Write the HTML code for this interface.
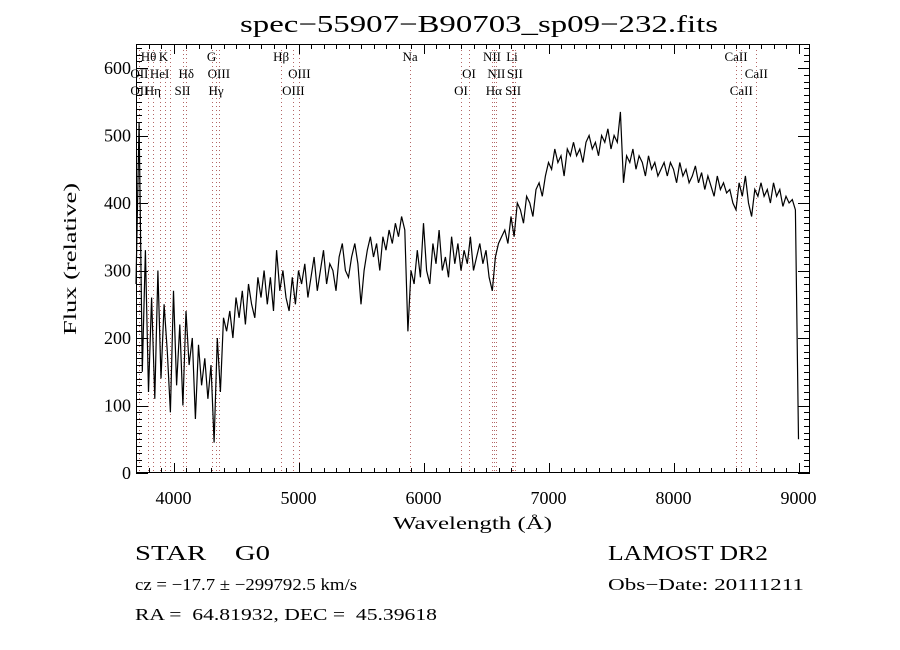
<!DOCTYPE html>
<html><head><meta charset="utf-8"><style>
html,body{margin:0;padding:0;background:#fff}
svg{display:block}
text{font-family:"Liberation Serif",serif;fill:#000}
</style></head><body>
<svg id="chart" width="900" height="650" xmlns="http://www.w3.org/2000/svg">
<text x="240" y="32" font-size="24" textLength="478" lengthAdjust="spacingAndGlyphs">spec−55907−B90703_sp09−232.fits</text>
<g id="lines"></g>
<g id="ticks"></g>
<path id="spec" fill="none" stroke="#000" stroke-width="1.2"/>
<rect x="136.5" y="44.5" width="673" height="428" fill="none" stroke="#000" stroke-width="1"/>
<text x="393" y="529" font-size="18" textLength="159" lengthAdjust="spacingAndGlyphs">Wavelength (Å)</text>
<text transform="translate(76,335) rotate(-90)" font-size="18" textLength="152" lengthAdjust="spacingAndGlyphs">Flux (relative)</text>
<text x="135" y="560" font-size="21" textLength="135" lengthAdjust="spacingAndGlyphs" xml:space="preserve">STAR    G0</text>
<text x="608" y="560" font-size="21" textLength="160" lengthAdjust="spacingAndGlyphs">LAMOST DR2</text>
<text x="135" y="590" font-size="17" textLength="222" lengthAdjust="spacingAndGlyphs">cz = −17.7 ± −299792.5 km/s</text>
<text x="608" y="590" font-size="17" textLength="196" lengthAdjust="spacingAndGlyphs">Obs−Date: 20111211</text>
<text x="135" y="620" font-size="17" textLength="302" lengthAdjust="spacingAndGlyphs" xml:space="preserve">RA =  64.81932, DEC =  45.39618</text>
</svg>
<script>
const startWave = 3700;
const stepWave = 25;
const flux = [
280,520,150,330,120,260,110,300,140,250,
180,90,270,130,220,100,240,160,200,80,
190,130,170,110,160,45,200,120,230,210,
240,200,260,230,270,220,280,250,230,290,
260,300,250,290,240,330,270,300,260,240,
290,250,300,280,310,260,290,320,270,300,
330,280,310,300,270,320,340,300,290,320,
340,310,250,300,330,350,320,340,300,350,
330,360,340,370,350,380,360,210,300,280,
330,290,370,300,280,340,310,360,300,320,
290,350,310,340,300,330,310,350,300,320,
340,310,330,290,270,320,340,350,360,340,
380,350,400,390,370,410,400,380,420,430,
410,440,460,450,480,460,470,440,480,470,
490,470,480,460,490,500,480,490,470,500,
490,510,480,500,490,535,430,470,460,480,
450,470,460,440,470,450,460,440,450,460,
440,460,450,430,460,440,450,430,440,455,
430,445,420,440,425,410,440,420,430,415,
420,400,390,430,410,440,400,380,420,410,
430,410,420,400,430,410,420,395,410,400,
405,390,50];
const xTicks = [4000,5000,6000,7000,8000,9000];
const yTicks = [0,100,200,300,400,500,600];
const lineWaves = [3727,3798,3835,3889,3934,3969,4072,4102,4305,4341,4363,4861,4959,5007,5893,6300,6364,6548,6563,6583,6708,6717,6731,8498,8542,8662];
const labelNames = ["Hθ","K","G","Hβ","Na","NII","Li","CaII","OII","HeI","Hδ","OIII","OIII","OI","NII","SII","CaII","OII","Hη","SII","Hγ","OIII","OI","Hα","SII","CaII"];
const labelWaves = [3800,3920,4305,4861,5893,6548,6708,8500,3727,3889,4102,4363,5007,6364,6583,6731,8662,3727,3835,4072,4341,4959,6300,6563,6717,8542];
const labelRows = [0,0,0,0,0,0,0,0,1,1,1,1,1,1,1,1,1,2,2,2,2,2,2,2,2,2];

const X = w => 173.5 + (w-4000)*0.125;
const Y = f => 473 - f*0.675;
const NS = "http://www.w3.org/2000/svg";
const mk = (t,p,a) => { const e=document.createElementNS(NS,t); for(const k in a) e.setAttribute(k,a[k]); p.appendChild(e); return e; };

let d = "";
flux.forEach((f,i)=>{ d += (i?"L":"M")+X(startWave+i*stepWave).toFixed(1)+","+Y(f).toFixed(1); });
document.getElementById("spec").setAttribute("d", d);

const lg = document.getElementById("lines");
lineWaves.forEach(w=>{
  const x = Math.round(X(w))+0.5;
  const l = mk("line",lg,{x1:x,x2:x,y1:50,y2:473,stroke:"#a04040","stroke-width":1,"stroke-dasharray":"1,3","stroke-opacity":0.8});
  
  
});
labelNames.forEach((n,i)=>{
  const t = mk("text",lg,{x:X(labelWaves[i]),y:61+labelRows[i]*17,"font-size":13,"text-anchor":"middle"});
  t.textContent = n;
  
  
});

const tg = document.getElementById("ticks");
for(let w=3700; w<=9090; w+=100){
  const major = w%1000===0, len = major?10:5;
  const x = Math.round(X(w))+0.5;
  mk("line",tg,{x1:x,x2:x,y1:473,y2:473-len,stroke:"#000"});
  mk("line",tg,{x1:x,x2:x,y1:44,y2:44+len,stroke:"#000"});
}
for(let f=0; f<=630; f+=10){
  const major = f%100===0, len = major?12:6;
  const y = Math.round(Y(f))+0.5;
  mk("line",tg,{x1:136,x2:136+len,y1:y,y2:y,stroke:"#000"});
  mk("line",tg,{x1:810,x2:810-len,y1:y,y2:y,stroke:"#000"});
}
xTicks.forEach(v=>{
  const t = mk("text",tg,{x:X(v),y:504,"font-size":18,"text-anchor":"middle"});
  t.textContent = v;
  
  
});
yTicks.forEach(v=>{
  const t = mk("text",tg,{x:131,y:Y(v)+6,"font-size":18,"text-anchor":"end"});
  t.textContent = v;
  
  
});
</script>
</body></html>
